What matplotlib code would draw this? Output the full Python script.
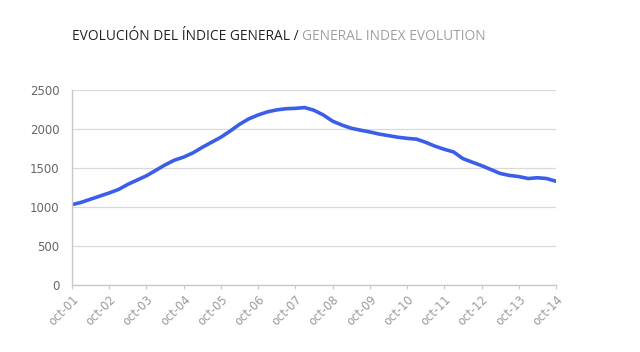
import numpy as np
import pandas as pd
import matplotlib
matplotlib.use("Agg")
import matplotlib.pyplot as plt

# --- data (quarterly readings, oct-01 .. oct-14) ---
START = "2001-10-01"
index_values = [
    1030, 1060, 1100, 1140, 1180, 1225, 1290, 1345, 1400, 1470,
    1540, 1600, 1640, 1695, 1765, 1830, 1895, 1975, 2060, 2130,
    2180, 2220, 2245, 2260, 2265, 2275, 2240, 2180, 2100, 2050,
    2010, 1985, 1962, 1935, 1915, 1895, 1880, 1870, 1830, 1780,
    1740, 1705, 1620, 1575, 1530, 1480, 1430, 1405, 1390, 1365,
    1375, 1365, 1330,
]
tick_years = list(range(2001, 2015))
tick_labels = [f"oct-{y % 100:02d}" for y in tick_years]
y_ticks = [0, 500, 1000, 1500, 2000, 2500]

TITLE_ES = "EVOLUCIÓN DEL ÍNDICE GENERAL / "
TITLE_EN = "GENERAL INDEX EVOLUTION"

LINE_COLOR = "#3b5ee8"
GRID_COLOR = "#d9d9d9"
TEXT_COLOR = "#666666"

dates = pd.date_range(START, periods=len(index_values), freq="QS-OCT")
tick_dates = [pd.Timestamp(f"{y}-10-01") for y in tick_years]

fig = plt.figure(figsize=(6.4, 3.52), dpi=100)
ax = fig.add_axes([72 / 640, 1 - 285 / 352, (556 - 72) / 640, (285 - 90) / 352])

ax.plot(dates, index_values, color=LINE_COLOR, lw=2.6, solid_joinstyle="round")

ax.set_xlim(tick_dates[0], tick_dates[-1])
ax.set_ylim(0, 2500)
ax.set_yticks(y_ticks)
ax.set_xticks(tick_dates)
ax.set_xticklabels(tick_labels, rotation=45, ha="right", rotation_mode="anchor")

ax.grid(axis="y", color=GRID_COLOR, lw=0.9)
ax.set_axisbelow(True)
for side in ["top", "right"]:
    ax.spines[side].set_visible(False)
for side in ["left", "bottom"]:
    ax.spines[side].set_color("#c8c8c8")
    ax.spines[side].set_linewidth(1.0)

ax.tick_params(axis="y", length=0, pad=9, labelsize=8.5, labelcolor=TEXT_COLOR)
ax.tick_params(axis="x", length=3, color="#c8c8c8", pad=3, labelsize=8.3,
               labelcolor="#999999")

# two-colour title
t1 = fig.text(72 / 640, 1 - 36 / 352, TITLE_ES, fontsize=9.9, color="#222222",
              family="Open Sans", va="center")
fig.canvas.draw()
bb = t1.get_window_extent()
fig.text(bb.x1 / fig.bbox.width, 1 - 36 / 352, TITLE_EN, fontsize=9.9,
         color="#a0a0a0", family="Open Sans", va="center")

fig.savefig("out.png", dpi=100)
